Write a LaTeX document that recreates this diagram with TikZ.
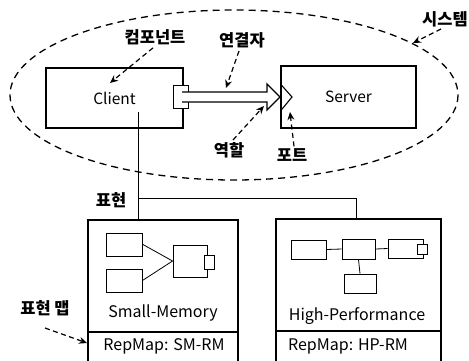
\documentclass[tikz,border=0pt]{standalone}
\usepackage{fontspec}
\setmainfont{Noto Sans CJK KR}
\usetikzlibrary{arrows.meta,calc}
\tikzset{
  comp/.style={draw, line width=1.1pt, inner sep=0pt, font=\fontsize{15.5}{17}\selectfont},
  inner/.style={draw, line width=0.9pt, inner sep=0pt},
  wire/.style={line width=0.8pt},
  note/.style={font=\fontsize{16.5}{18}\selectfont\bfseries, inner sep=1pt},
  pointer/.style={dashed, dash pattern=on 5pt off 3.5pt, line width=1.2pt,
                  -{Stealth[length=8pt,width=7pt]}},
  label/.style={font=\fontsize{16}{18}\selectfont, inner sep=0pt}
}
\begin{document}
\begin{tikzpicture}[x=1pt,y=-1pt]
\useasboundingbox (0,0) rectangle (469,360);
\clip (0,0) rectangle (469,360);

% system boundary
\draw[dashed, dash pattern=on 7pt off 5pt, line width=1.3pt] (234,95) ellipse [x radius=224, y radius=85];

% components
\node[comp, minimum width=137pt, minimum height=60pt] (client) at (114.5,98) {Client};
\node[comp, minimum width=135pt, minimum height=62pt] (server) at (348.5,97) {Server};

% client port (role side)
\node[inner, fill=white, minimum width=15pt, minimum height=23pt] (cport) at (180.5,96.5) {};

% server port
\coordinate (sp1) at (server.west |- 0,84);
\coordinate (sp2) at (292,97);
\coordinate (sp3) at (server.west |- 0,111);
\draw[line width=1.1pt] (sp1) -- (sp2) -- (sp3);

% connector: hollow block arrow from client port to server port
\coordinate (cs) at (182,92);
\coordinate (ct) at (280,97);
\draw[line width=1.1pt, fill=white]
  (cs) -- (267,92) -- (267,84) -- (ct) -- (267,110) -- (267,102) -- (182,102);

% annotations
\node[note] (lcomp) at (155,37) {컴포넌트};
\coordinate (acomp) at (110,83);
\draw[pointer] (lcomp.south) ++(-2,2) -- (acomp);

\node[note] (lconn) at (242,40) {연결자};
\coordinate (aconn) at (226,88);
\draw[pointer] (lconn.south) ++(-3,2) -- (aconn);

\node[note] (lrole) at (229,150) {역할};
\coordinate (arole) at (264,106);
\draw[pointer] (lrole.north) ++(4,-1) -- (arole);

\node[note] (lport) at (292,155) {포트};
\coordinate (aport) at (290,112);
\draw[pointer] (lport.north) ++(2,-1) -- (aport);

\node[note] (lsys) at (445,19) {시스템};
\coordinate (asys) at (413,43);
\draw[pointer] (lsys.south) ++(-4,1) -- (asys);

% representations
\node[note] (lrep) at (111,200) {표현};
\coordinate (branch) at (138,198);
\coordinate (repstart) at (138,112);

% small-memory representation
\draw[line width=1.1pt] (88,362) -- (88,220) -- (238,220) -- (238,362);
\draw[line width=1.1pt] (88,332) -- (238,332);
\coordinate (smtop) at (138,220);
\node[label] (smname) at (163,313) {Small-Memory};
\node[label] (smmap) at (164,346) {RepMap: SM-RM};

\node[inner, minimum width=36pt, minimum height=23pt] (sa) at (124.5,244.5) {};
\node[inner, minimum width=36pt, minimum height=23pt] (sb) at (124,280.5) {};
\node[inner, minimum width=34pt, minimum height=32pt] (sc) at (190,261) {};
\node[inner, fill=white, minimum width=10pt, minimum height=14pt] (scp) at (209,262) {};
\draw[wire] (sa.east) -- (sc.west);
\draw[wire] (sb.east) -- (sc.west);

% high-performance representation
\draw[line width=1.1pt] (276,362) -- (276,219) -- (441,219) -- (441,362);
\draw[line width=1.1pt] (276,331) -- (441,331);
\coordinate (hptop) at (356,219);
\node[label] (hpname) at (357,316) {High-Performance};
\node[label] (hpmap) at (348,346) {RepMap: HP-RM};

\node[inner, minimum width=35pt, minimum height=19pt] (ha) at (308.5,249.5) {};
\node[inner, minimum width=33pt, minimum height=20pt] (hb) at (358.5,249) {};
\node[inner, minimum width=35pt, minimum height=19pt] (hc) at (405.5,248.5) {};
\node[inner, fill=white, minimum width=10pt, minimum height=10pt] (hcp) at (422,249) {};
\node[inner, minimum width=32pt, minimum height=19pt] (hd) at (360,283.5) {};
\draw[wire] (ha.east) -- (hb.west);
\draw[wire] (hb.east) -- (hc.west);
\draw[wire] (hb.south) -- (hd.north);

% representation links
\draw[wire] (repstart) -- (smtop);
\draw[wire] (branch) -- (hptop |- branch) -- (hptop);

% representation map pointer
\node[note] (lmap) at (45,308) {표현 맵};
\coordinate (amap) at (87,343);
\draw[pointer] (45,328) -- (amap);
\end{tikzpicture}
\end{document}
